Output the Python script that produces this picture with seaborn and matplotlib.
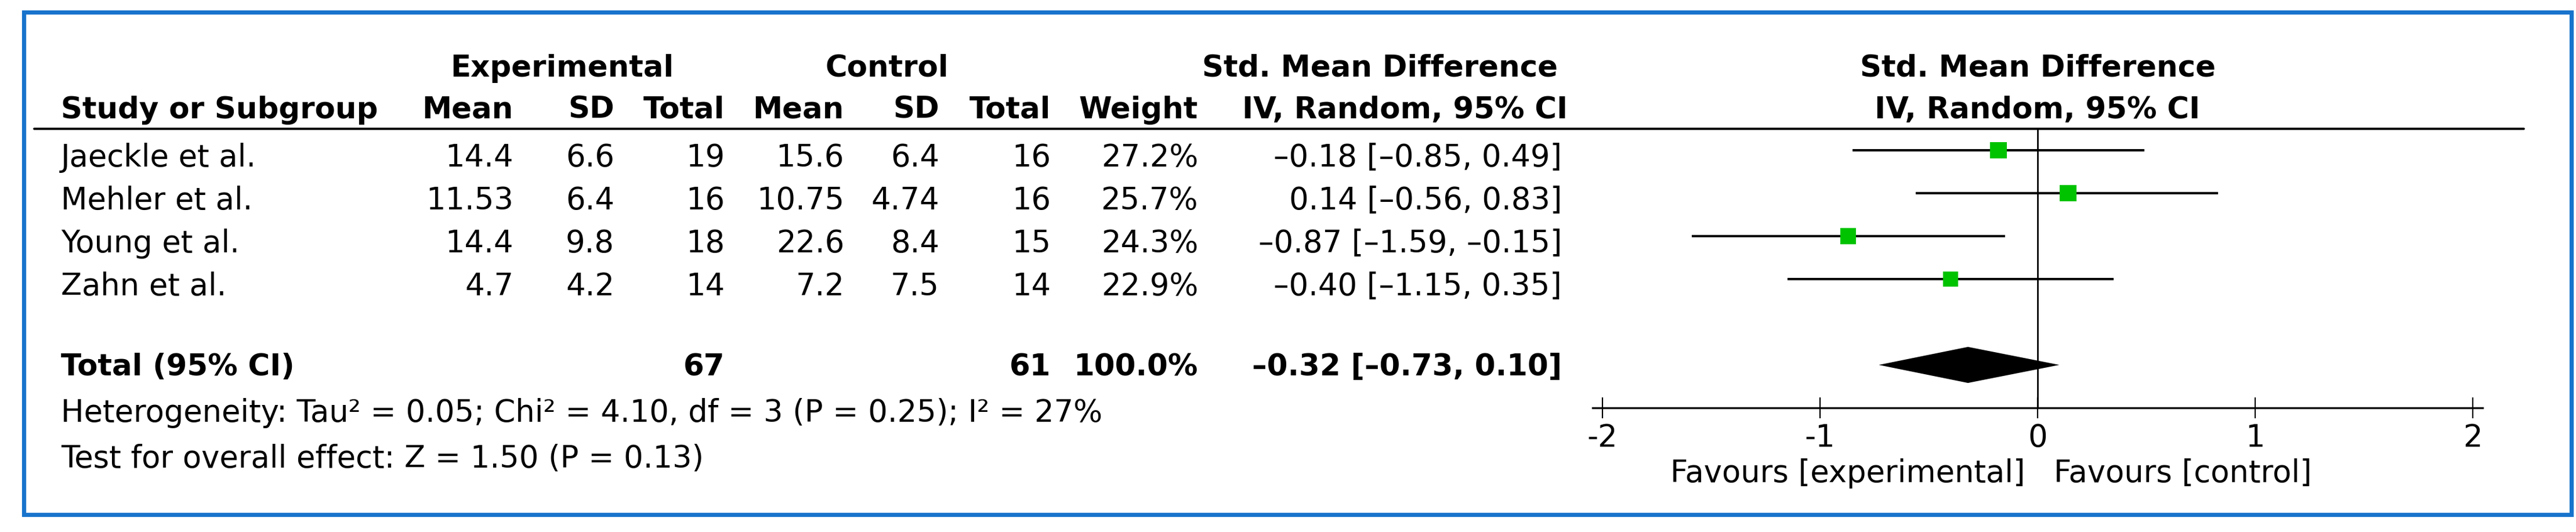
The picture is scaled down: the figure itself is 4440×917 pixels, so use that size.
import matplotlib
matplotlib.use('Agg')
import matplotlib.pyplot as plt
from matplotlib.lines import Line2D
from matplotlib.patches import Rectangle
import numpy as np
import pandas as pd
import seaborn as sns

# ---------------------------
# data
# ---------------------------
studies = ['Jaeckle et al.', 'Mehler et al.', 'Young et al.', 'Zahn et al.']
exp_mean = ['14.4', '11.53', '14.4', '4.7']
exp_sd = ['6.6', '6.4', '9.8', '4.2']
exp_n = [19, 16, 18, 14]
ctl_mean = ['15.6', '10.75', '22.6', '7.2']
ctl_sd = ['6.4', '4.74', '8.4', '7.5']
ctl_n = [16, 16, 15, 14]
weights = [27.2, 25.7, 24.3, 22.9]
smd = [-0.18, 0.14, -0.87, -0.40]
ci_lo = [-0.85, -0.56, -1.59, -1.15]
ci_hi = [0.49, 0.83, -0.15, 0.35]

total_exp = 67
total_ctl = 61
total_weight = 100.0
total_smd = -0.32
total_lo = -0.73
total_hi = 0.10

heterogeneity = 'Heterogeneity: Tau\u00b2 = 0.05; Chi\u00b2 = 4.10, df = 3 (P = 0.25); I\u00b2 = 27%'
overall = 'Test for overall effect: Z = 1.50 (P = 0.13)'
xticks = [-2, -1, 0, 1, 2]

df = pd.DataFrame({'study': studies, 'smd': smd, 'lo': ci_lo, 'hi': ci_hi,
                   'weight': weights, 'row': np.arange(len(studies))})
total_row = 5

sns.set_theme(style='white')
plt.rcParams['font.family'] = ['DejaVu Sans']
plt.rcParams['axes.unicode_minus'] = False

W, H = 4440, 917
FS = 38      # normal text
FSB = 37     # bold text
fig = plt.figure(figsize=(W / 100, H / 100), dpi=100)
fig.patch.set_facecolor('white')


def fx(x):
    return x / W


def fy(y):
    return 1 - y / H


def txt(x, y, s, ha='right', bold=False):
    fig.text(fx(x), fy(y), s, ha=ha, va='baseline', fontsize=FSB if bold else FS,
             fontweight='bold' if bold else 'normal', color='black')


def dash(v):
    return f'{v:.2f}'.replace('-', '\u2013')


# blue frame
fig.patches.append(Rectangle((fx(40.5), fy(886.5)), fx(4431.5) - fx(40.5), fy(20.5) - fy(886.5),
                             transform=fig.transFigure, fill=False, edgecolor='#1873cc', lw=5.2))

# header line under column titles
fig.add_artist(Line2D([fx(59), fx(4350)], [fy(222), fy(222)], transform=fig.transFigure,
                      color='black', lw=2.8))

# column header texts
txt(969, 132, 'Experimental', ha='center', bold=True)
txt(1529, 132, 'Control', ha='center', bold=True)
txt(2378, 132, 'Std. Mean Difference', ha='center', bold=True)
txt(3512, 132, 'Std. Mean Difference', ha='center', bold=True)
txt(105, 204, 'Study or Subgroup', ha='left', bold=True)
cols_x = [885, 1059, 1249, 1455, 1619, 1811, 2065]
for x, s in zip(cols_x, ['Mean', 'SD', 'Total', 'Mean', 'SD', 'Total', 'Weight']):
    txt(x, 204, s, bold=True)
txt(2422, 204, 'IV, Random, 95% CI', ha='center', bold=True)
txt(3512, 204, 'IV, Random, 95% CI', ha='center', bold=True)

# study rows
base = [287, 361, 435, 509]
for i, y in enumerate(base):
    txt(105, y, studies[i], ha='left')
    vals = [exp_mean[i], exp_sd[i], str(exp_n[i]), ctl_mean[i], ctl_sd[i], str(ctl_n[i]),
            f'{weights[i]:.1f}%']
    for x, s in zip(cols_x, vals):
        txt(x, y, s)
    txt(2692, y, f'{dash(smd[i])} [{dash(ci_lo[i])}, {dash(ci_hi[i])}]')

# total row
txt(105, 647, 'Total (95% CI)', ha='left', bold=True)
txt(1249, 647, str(total_exp), bold=True)
txt(1811, 647, str(total_ctl), bold=True)
txt(2065, 647, f'{total_weight:.1f}%', bold=True)
txt(2692, 647, f'{dash(total_smd)} [{dash(total_lo)}, {dash(total_hi)}]', bold=True)

txt(105, 727, heterogeneity, ha='left')
txt(105, 805, overall, ha='left')

# ---------------------------
# forest panel
# ---------------------------
zero_px, unit = 3512, 375
xlo, xhi = -2.045, 2.045
ax_left = zero_px + xlo * unit
ax = fig.add_axes([fx(ax_left), fy(703), (xhi - xlo) * unit / W, (703 - 222) / H])
ax.patch.set_alpha(0)
ax.set_xlim(xlo, xhi)
ax.set_ylim(6, -0.5)

ax.axvline(0, color='black', lw=2.0, zorder=1)
ax.hlines(df['row'], df['lo'], df['hi'], color='black', lw=2.9, zorder=2)
sns.scatterplot(data=df, x='smd', y='row', marker='s', s=df['weight'] * 16,
                color='#00c300', linewidth=0, zorder=3, ax=ax, legend=False)

half = 0.42
ax.fill([total_lo, total_smd, total_hi, total_smd],
        [total_row, total_row - half, total_row, total_row + half],
        color='black', lw=0, zorder=3)

for s in ['top', 'left', 'right']:
    ax.spines[s].set_visible(False)
ax.spines['bottom'].set_linewidth(2.4)
ax.spines['bottom'].set_color('black')
ax.set_yticks([])
ax.set_xticks(xticks)
ax.set_xticklabels([str(t) for t in xticks])
ax.tick_params(axis='x', direction='inout', length=26, width=1.6, pad=6,
               labelsize=FS, colors='black', bottom=True)
ax.set_xlabel('')
ax.set_ylabel('')

txt(3185, 831, 'Favours [experimental]', ha='center')
txt(3762, 831, 'Favours [control]', ha='center')

fig.savefig('out.png', dpi=100, facecolor='white')
